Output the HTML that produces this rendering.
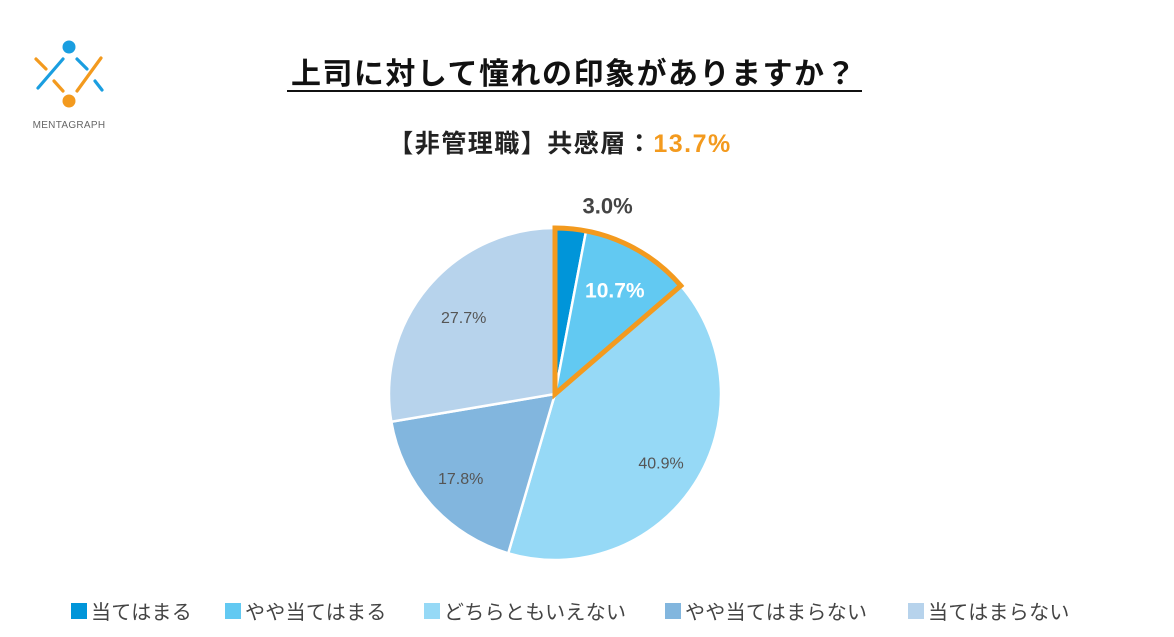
<!DOCTYPE html>
<html><head><meta charset="utf-8"><style>
body{margin:0;background:#fff;width:1174px;height:632px;overflow:hidden;font-family:"Liberation Sans","Noto Sans CJK JP",sans-serif}
</style></head><body>
<svg width="1174" height="632" xmlns="http://www.w3.org/2000/svg">
<g>
<circle cx="69" cy="47" r="6.5" fill="#1a9ee0"/>
<circle cx="69" cy="101" r="6.5" fill="#f39a1e"/>
<g stroke-linecap="round" stroke-width="3.2">
<line x1="63" y1="59" x2="38" y2="88" stroke="#1a9ee0"/>
<line x1="36" y1="59" x2="46" y2="69" stroke="#f39a1e"/>
<line x1="77" y1="59" x2="87" y2="69" stroke="#1a9ee0"/>
<line x1="101" y1="58" x2="77" y2="91" stroke="#f39a1e"/>
<line x1="95" y1="81" x2="102" y2="90" stroke="#1a9ee0"/>
<line x1="54" y1="81" x2="63" y2="91" stroke="#f39a1e"/>
</g>
<text x="69" y="128" font-size="10" fill="#666" text-anchor="middle" letter-spacing="0.3">MENTAGRAPH</text>
</g>
<text x="574" y="84" font-size="30" font-weight="bold" fill="#111" text-anchor="middle" letter-spacing="1.5">上司に対して憧れの印象がありますか？</text>
<line x1="287" y1="91" x2="862" y2="91" stroke="#111" stroke-width="2"/>
<text x="560" y="152" font-size="25" font-weight="bold" fill="#222" text-anchor="middle" letter-spacing="1.5">【非管理職】共感層：<tspan fill="#f39a1e">13.7%</tspan></text>
<g id="pie"></g>
<g id="legend"></g>
</svg>
<script>
const categories=["当てはまる","やや当てはまる","どちらともいえない","やや当てはまらない","当てはまらない"];
const values=[3.0,10.7,40.9,17.8,27.7];
const labels=["3.0%","10.7%","40.9%","17.8%","27.7%"];
const colors=["#0095d9","#62c9f2","#96d9f6","#82b6de","#b7d3ec"];
const NS="http://www.w3.org/2000/svg";
const cx=555,cy=394,r=166;
const total=values.reduce((a,b)=>a+b,0);
const pie=document.getElementById('pie');
function pt(a,rr){return [cx+rr*Math.sin(a),cy-rr*Math.cos(a)];}
let a0=0;const angles=[];
values.forEach((v,i)=>{
 const a1=a0+v/total*2*Math.PI;angles.push([a0,a1]);
 const p0=pt(a0,r),p1=pt(a1,r);
 const p=document.createElementNS(NS,'path');
 p.setAttribute('d',`M${cx},${cy}L${p0[0]},${p0[1]}A${r},${r} 0 ${a1-a0>Math.PI?1:0} 1 ${p1[0]},${p1[1]}Z`);
 p.setAttribute('fill',colors[i]);p.setAttribute('stroke','#fff');p.setAttribute('stroke-width','2.5');
 
 
 pie.appendChild(p);
 a0=a1;
});
{const s=angles[0][0],e=angles[1][1];const p0=pt(s,r),p1=pt(e,r);
 const p=document.createElementNS(NS,'path');
 p.setAttribute('d',`M${cx},${cy}L${p0[0]},${p0[1]}A${r},${r} 0 0 1 ${p1[0]},${p1[1]}Z`);
 p.setAttribute('fill','none');p.setAttribute('stroke','#f39a1e');p.setAttribute('stroke-width','5');p.setAttribute('stroke-linejoin','miter');
 
 
 pie.appendChild(p);}
const lr=[1.13,0.72,0.76,0.76,0.72];
const dx=[35,0,0,0,0];
values.forEach((v,i)=>{
 const m=(angles[i][0]+angles[i][1])/2;const q=pt(m,r*lr[i]);
 const t=document.createElementNS(NS,'text');
 t.setAttribute('x',q[0]+dx[i]);t.setAttribute('y',q[1]+(i==1?7:6));t.setAttribute('text-anchor','middle');
 if(i==0){t.setAttribute('font-size','22');t.setAttribute('font-weight','bold');t.setAttribute('fill','#444');}
 else if(i==1){t.setAttribute('font-size','21');t.setAttribute('font-weight','bold');t.setAttribute('fill','#fff');}
 else{t.setAttribute('font-size','16');t.setAttribute('fill','#555');}
 t.textContent=labels[i];
 
 
 pie.appendChild(t);
});
const lg=document.getElementById('legend');
const lx=[71,225,424,665,908];
categories.forEach((c,i)=>{
 const g=document.createElementNS(NS,'g');
 
 
 const rc=document.createElementNS(NS,'rect');
 rc.setAttribute('x',lx[i]);rc.setAttribute('y',603);rc.setAttribute('width',16);rc.setAttribute('height',16);rc.setAttribute('fill',colors[i]);
 const t=document.createElementNS(NS,'text');
 t.setAttribute('x',lx[i]+20);t.setAttribute('y',619);t.setAttribute('font-size','20');t.setAttribute('fill','#444');t.setAttribute('letter-spacing','0.3');
 t.textContent=c;
 g.appendChild(rc);g.appendChild(t);lg.appendChild(g);
});
</script>
</body></html>
